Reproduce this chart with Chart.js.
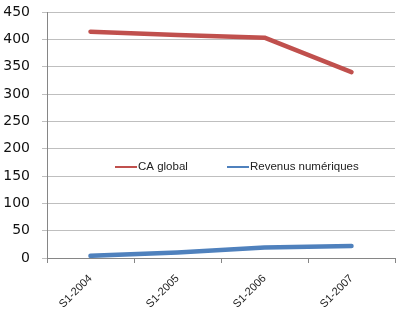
<!DOCTYPE html>
<html>
<head>
<meta charset="utf-8">
<script src="https://cdn.jsdelivr.net/npm/chart.js@4"></script>
<style>
  html, body { margin: 0; padding: 0; background: #fff; }
  #wrap { width: 400px; height: 322px; }
</style>
</head>
<body>
<div id="wrap"><canvas id="chart" width="400" height="322"></canvas></div>
<script>
const periods = ['S1-2004', 'S1-2005', 'S1-2006', 'S1-2007'];
const caGlobal = [414, 408, 403, 340];
const revenusNumeriques = [4, 10, 19, 22];
const yTicks = [0, 50, 100, 150, 200, 250, 300, 350, 400, 450];

const RED = '#C0504D';
const BLUE = '#4F81BD';

// Légende dessinée à l'intérieur de la zone du graphique
const insideLegend = {
  id: 'insideLegend',
  afterDraw(chart) {
    const ctx = chart.ctx;
    const items = [
      { label: 'CA global', color: RED, x: 115 },
      { label: 'Revenus numériques', color: BLUE, x: 227 },
    ];
    const y = 167;
    ctx.save();
    ctx.font = '11.5px "Liberation Sans", Arial, sans-serif';
    ctx.textBaseline = 'middle';
    ctx.fillStyle = '#222';
    items.forEach(it => {
      ctx.strokeStyle = it.color;
      ctx.lineWidth = 2;
      ctx.beginPath();
      ctx.moveTo(it.x, y);
      ctx.lineTo(it.x + 22, y);
      ctx.stroke();
      ctx.fillText(it.label, it.x + 23, y);
    });
    ctx.restore();
  }
};

new Chart(document.getElementById('chart'), {
  type: 'line',
  data: {
    labels: periods,
    datasets: [
      { label: 'CA global', data: caGlobal, borderColor: RED, backgroundColor: RED },
      { label: 'Revenus numériques', data: revenusNumeriques, borderColor: BLUE, backgroundColor: BLUE },
    ],
  },
  options: {
    responsive: false,
    animation: false,
    layout: { padding: { top: 12, right: 5, left: 0, bottom: 0 } },
    elements: {
      line: { borderWidth: 4.5, tension: 0, borderCapStyle: 'round', borderJoinStyle: 'round' },
      point: { radius: 0, hoverRadius: 0 },
    },
    plugins: {
      legend: { display: false },
      tooltip: { enabled: false },
    },
    scales: {
      x: {
        offset: true,
        grid: { display: true, offset: true, drawOnChartArea: false, color: '#868686', tickLength: 5 },
        border: { color: '#868686', width: 1 },
        ticks: {
          maxRotation: 45,
          minRotation: 45,
          color: '#222',
          font: { family: '"Liberation Sans", Arial, sans-serif', size: 11 },
          padding: 9,
        },
        afterFit(scale) {
          scale.height = 64;
          scale.paddingLeft = 0;
          scale.paddingRight = 0;
        },
      },
      y: {
        min: 0,
        max: 450,
        afterBuildTicks(scale) { scale.ticks = yTicks.map(v => ({ value: v })); },
        grid: { color: '#BFBFBF', lineWidth: 1, tickLength: 5 },
        border: { color: '#868686', width: 1 },
        ticks: {
          color: '#111',
          font: { family: '"DejaVu Sans", sans-serif', size: 14 },
          padding: 12,
        },
        afterFit(scale) {
          scale.width = 47;
          scale.paddingTop = 0;
          scale.paddingBottom = 0;
        },
      },
    },
  },
  plugins: [insideLegend],
});
</script>
</body>
</html>
